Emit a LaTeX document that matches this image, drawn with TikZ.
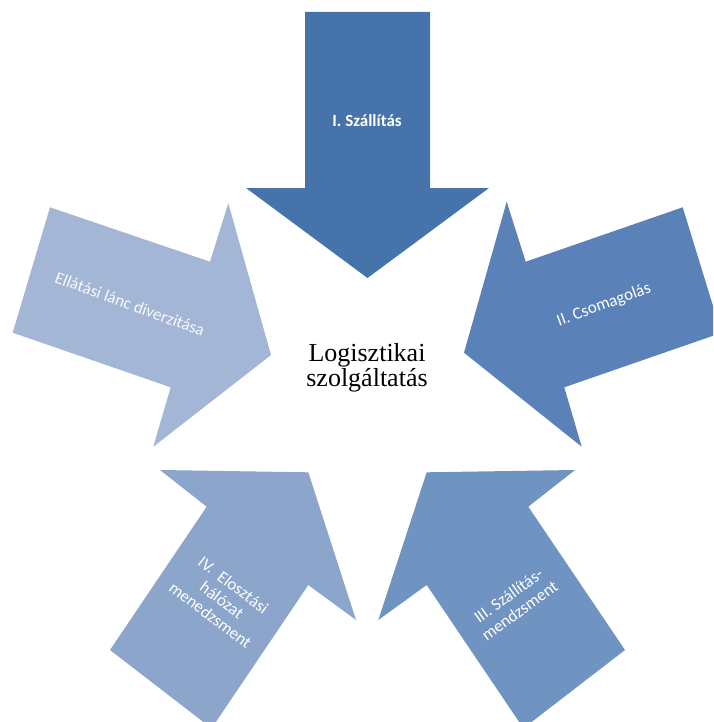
\documentclass[tikz,border=0pt]{standalone}
\usepackage{fontspec}
\setmainfont{Liberation Serif}
\newfontfamily\labelfont{Carlito}
\definecolor{armA}{RGB}{70,116,170}
\definecolor{armB}{RGB}{90,130,185}
\definecolor{armC}{RGB}{112,148,194}
\definecolor{armD}{RGB}{139,165,203}
\definecolor{armE}{RGB}{163,182,214}
\begin{document}
\begin{tikzpicture}[x=1pt,y=-1pt,
  armlabel/.style={text=white, inner sep=0pt, align=center,
    font=\labelfont\fontsize{17}{19}\selectfont},
  hub/.style={inner sep=0pt, align=center, text=black,
    font=\fontsize{26}{25}\selectfont}]
\useasboundingbox (0,0) rectangle (713,722);
\clip (0,0) rectangle (713,722);

% I -- arrow from the top, pointing down
\fill[armA] (305,12) -- (430,12) -- (430,188) -- (489,188) -- (367.5,278)
  -- (246,188) -- (305,188) -- cycle;
% II -- arrow from the right
\fill[armB] (464,352.7) -- (506.7,201.7) -- (525.7,261.7) -- (682.7,207.3)
  -- (721.3,332.9) -- (564.3,387.3) -- (581.7,446.7) -- cycle;
% III -- arrow from the lower right
\fill[armC] (426.7,472.3) -- (575,470) -- (528.3,506.7) -- (625,650)
  -- (523.4,728.3) -- (426.7,585) -- (378.3,620) -- cycle;
% IV -- arrow from the lower left
\fill[armD] (308.3,472.3) -- (356,620) -- (308.3,585) -- (211.6,728.3)
  -- (110,650) -- (206.7,506.7) -- (160,470) -- cycle;
% V -- arrow from the left
\fill[armE] (271,355) -- (153.3,446.7) -- (170.7,387.3) -- (12.7,332.7)
  -- (50,207.3) -- (210,261.7) -- (228.3,203.3) -- cycle;

\node[armlabel, font=\labelfont\bfseries\fontsize{17}{19}\selectfont] (lI) at (367,121) {I. Szállítás};
\node[armlabel, rotate=20] (lII) at (604,305) {II. Csomagolás};
\node[armlabel, rotate=36] (lIII) at (514,603) {III. Szállítás-\\mendzsment};
\node[armlabel, rotate=-37] (lIV) at (222,600) {IV.~ Elosztási\\hálózat\\menedzsment};
\node[armlabel, rotate=-20, text=white!92!armE] (lV) at (130,304) {Ellátási lánc diverzitása};

\node[hub] (hub) at (367,368) {Logisztikai\\szolgáltatás};
\end{tikzpicture}
\end{document}
